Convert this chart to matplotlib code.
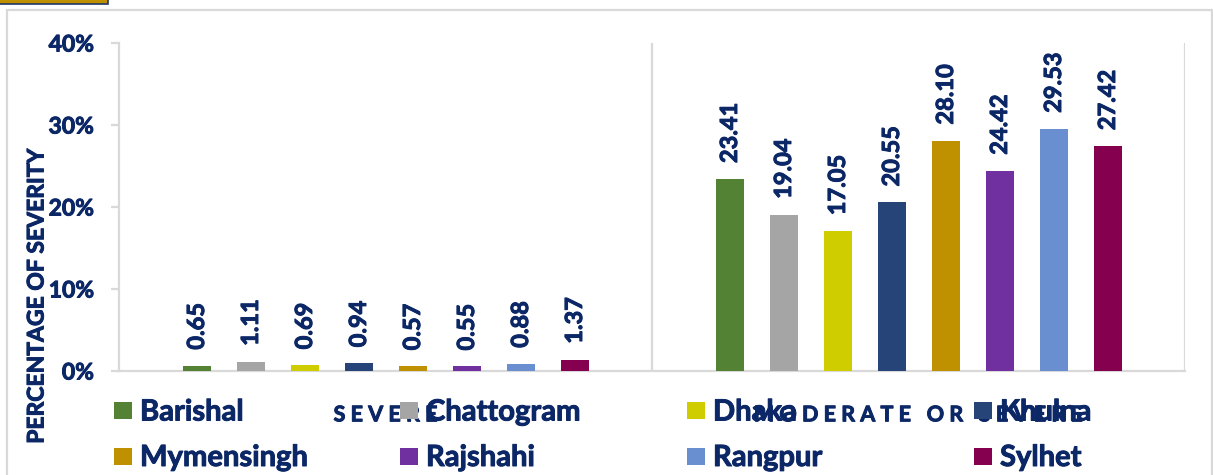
import matplotlib
matplotlib.use("Agg")
import matplotlib.pyplot as plt
from matplotlib.patches import Rectangle
import matplotlib.patheffects as pe
import numpy as np

# ---------------- data ----------------
regions = ['Barishal', 'Chattogram', 'Dhaka', 'Khulna',
           'Mymensingh', 'Rajshahi', 'Rangpur', 'Sylhet']
categories = ['SEVERE', 'MODERATE OR SEVERE']
severe = [0.65, 1.11, 0.69, 0.94, 0.57, 0.55, 0.88, 1.37]
moderate_or_severe = [23.41, 19.04, 17.05, 20.55, 28.10, 24.42, 29.53, 27.42]
yticks = [0, 10, 20, 30, 40]
ytick_labels = ['0%', '10%', '20%', '30%', '40%']
ylabel = 'PERCENTAGE OF SEVERITY'

# ---------------- style ----------------
colors = ['#548235', '#A5A5A5', '#CFCC00', '#264478',
          '#BF9000', '#7030A0', '#6A8FD0', '#860050']
navy = '#0B2766'
grey = '#D9D9D9'
FONT = 'Lato'
THICK = [pe.withStroke(linewidth=0.7, foreground=navy)]

W, H = 1213, 475
fig = plt.figure(figsize=(W / 100, H / 100), dpi=100)
fig.patch.set_facecolor('white')


def fx(x):
    return x / W


def fy(y):
    return 1 - y / H


# outer frame and decorative tab
fig.add_artist(Rectangle((fx(7), fy(490)), fx(1212) - fx(7), fy(10) - fy(490),
                         transform=fig.transFigure, fill=False,
                         edgecolor=grey, linewidth=1.6, zorder=0))
fig.add_artist(Rectangle((fx(-5), fy(3.5)), fx(108) - fx(-5), fy(-5) - fy(3.5),
                         transform=fig.transFigure, facecolor='#BF9000',
                         edgecolor='#1F3864', linewidth=1.2, zorder=0))

left, right, top, bottom = 119, 1185, 43, 371
ax = fig.add_axes([fx(left), fy(bottom), fx(right) - fx(left), fy(top) - fy(bottom)])
ax.set_facecolor('none')

slot = 54 / 533.0
bw = 28 / 533.0
series = [severe, moderate_or_severe]
cat_x = np.arange(len(categories))
for j, reg in enumerate(regions):
    vals = [s[j] for s in series]
    xs = cat_x + (j - 3.5) * slot
    ax.bar(xs, vals, width=bw, color=colors[j], zorder=3, label=reg)
    for x, v in zip(xs, vals):
        ax.annotate(f'{v:.2f}', (x, v), xytext=(0, 11.5), textcoords='offset points',
                    rotation=90, ha='center', va='bottom', fontsize=17,
                    fontweight='bold', color=navy, family=FONT, path_effects=THICK)

ax.set_xlim(-0.5, len(categories) - 0.5)
ax.set_ylim(0, 40)
ax.set_yticks(yticks)
ax.set_yticklabels(ytick_labels, fontsize=16.5, fontweight='bold', color=navy, family=FONT)
for t in ax.get_yticklabels():
    t.set_path_effects(THICK)
ax.tick_params(axis='y', length=6, width=1.6, color=grey, pad=12)

spaced = ['   '.join(' '.join(w) for w in c.split(' ')) for c in categories]
ax.set_xticks(cat_x)
ax.set_xticklabels(spaced, fontsize=15.5, fontweight='bold', color=navy, family=FONT)
for t in ax.get_xticklabels():
    t.set_path_effects(THICK)
ax.tick_params(axis='x', length=0, pad=24)

for s in ['top', 'right']:
    ax.spines[s].set_visible(False)
for s in ['left', 'bottom']:
    ax.spines[s].set_color(grey)
    ax.spines[s].set_linewidth(1.6)
for b in np.arange(0.5, len(categories), 1.0):
    ax.axvline(b, color=grey, linewidth=1.6, zorder=1)

fig.text(fx(37), fy(296), ylabel, rotation=90, ha='center', va='center',
         fontsize=16.5, fontweight='bold', color=navy, family=FONT, path_effects=THICK)

# legend (4 columns x 2 rows)
col_x = [114, 400, 687, 974]
row_y = [410.5, 456]
sq_w, sq_h = 18, 17
for j, reg in enumerate(regions):
    cx = col_x[j % 4]
    cy = row_y[j // 4]
    fig.add_artist(Rectangle((fx(cx), fy(cy + sq_h / 2)), fx(sq_w), sq_h / H,
                             transform=fig.transFigure, facecolor=colors[j],
                             edgecolor='none', zorder=5))
    fig.text(fx(cx + 26), fy(cy + 10), reg, ha='left', va='baseline',
             fontsize=21, fontweight='bold', color=navy, family=FONT, zorder=6,
             path_effects=THICK)

fig.savefig('out.png', dpi=100, facecolor='white')
